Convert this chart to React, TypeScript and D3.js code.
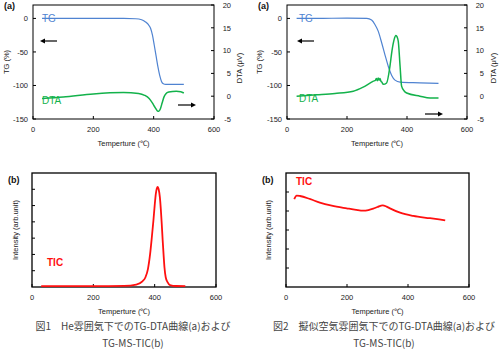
import * as d3 from 'd3';

// ---- data ----
// Fig.1  He atmosphere
const heTgTemp = [30, 100, 200, 300, 340, 360, 372, 382, 390, 396, 402, 408, 414, 420, 426, 432, 440, 460, 500];
const heTg = [0, 0, 0, 0, -0.5, -2, -5, -9, -15, -25, -40, -56, -72, -85, -94, -97.5, -98.5, -98.5, -98.5];
const heDtaTemp = [30, 100, 200, 300, 350, 370, 385, 395, 405, 412, 417, 422, 428, 434, 440, 450, 475, 490, 500];
const heDta = [-0.5, -0.2, 0.5, 0.8, 0.6, 0.2, -0.5, -1.4, -2.5, -3.2, -3.3, -2.8, -1.5, -0.2, 0.5, 0.9, 1.1, 1.0, 0.7];
const heTicTemp = [30, 100, 200, 300, 340, 360, 370, 378, 385, 391, 396, 400, 404, 407, 410, 413, 417, 420, 423, 426, 429, 432, 436, 442, 450, 470, 500];
const heTic = [0.05, 0.05, 0.05, 0.07, 0.15, 0.35, 0.6, 1.1, 2.0, 3.1, 4.1, 5.0, 5.75, 6.05, 6.15, 6.0, 5.5, 4.8, 3.9, 2.9, 2.0, 1.2, 0.6, 0.3, 0.12, 0.06, 0.05];

// Fig.2  simulated air
const airTgTemp = [32, 100, 200, 266, 282, 293, 304, 316, 327, 338, 349, 360, 377, 443, 505];
const airTg = [0, 0, 0.5, 0, -2.5, -9, -19, -37, -55, -72, -85, -92, -95, -96, -97];
const airDtaTemp = [32, 100, 160, 221, 254, 288, 295, 298, 301, 304, 307, 310, 313, 316, 321, 332, 343, 350, 357, 363, 367, 371, 377, 382, 390, 399, 443, 477, 505];
const airDta = [0, 0.3, 0.6, 1.1, 2.0, 3.3, 3.5, 3.9, 3.4, 4.0, 3.5, 3.9, 3.3, 3.1, 2.6, 2.9, 6.5, 10, 12.4, 13.3, 13.0, 12.0, 6.5, 2.2, 1.2, 0.7, 0, -0.4, -0.4];
const airTicTemp = [27, 35, 46, 80, 111, 150, 199, 230, 253, 270, 286, 300, 317, 330, 341, 374, 417, 472, 522];
const airTic = [4.62, 4.81, 4.79, 4.62, 4.44, 4.28, 4.14, 4.06, 4.02, 4.05, 4.12, 4.21, 4.30, 4.23, 4.14, 3.91, 3.74, 3.62, 3.51];

const xTicks = [0, 200, 400, 600];
const tgTicks = [-150, -100, -50, 0];
const dtaTicks = [-5, 0, 5, 10, 15, 20];

const captions = [
  ['図1\u3000He雰囲気下でのTG-DTA曲線(a)および', 'TG-MS-TIC(b)'],
  ['図2\u3000擬似空気雰囲気下でのTG-DTA曲線(a)および', 'TG-MS-TIC(b)'],
];

const FONT = 'Liberation Sans, Arial, sans-serif';
const BLUE = '#4f83d1';
const GREEN = '#13b24b';
const RED = '#ff1010';

type Box = { x0: number; x1: number; y0: number; y1: number };

const zip = (a: number[], b: number[]) => a.map((t, i) => [t, b[i]] as [number, number]);

function XAxis({ box, x }: { box: Box; x: d3.ScaleLinear<number, number> }) {
  return (
    <g fontFamily={FONT} fontSize={7.5}>
      {xTicks.map(t => (
        <g key={t}>
          <line x1={x(t)} x2={x(t)} y1={box.y1} y2={box.y1 - 3} stroke="#000" />
          <text x={x(t)} y={box.y1 + 13} textAnchor="middle" fill="#222">{t}</text>
        </g>
      ))}
      <text x={(box.x0 + box.x1) / 2} y={box.y1 + 27} textAnchor="middle" fill="#222">Temperture (℃)</text>
    </g>
  );
}

function TgPanel({ box, tg, dta, marks, tgX }: {
  box: Box; tg: [number, number][]; dta: [number, number][];
  marks: { leftArrowX: number; rightArrowX: number; rightArrowY: number; dtaLabelY: number; ylabX: number; y2labX: number };
  tgX: number;
}) {
  const x = d3.scaleLinear().domain([0, 600]).range([box.x0, box.x1]);
  const yTg = d3.scaleLinear().domain([-150, 20]).range([box.y1, box.y0]);
  const yDta = d3.scaleLinear().domain([-5, 20]).range([box.y1, box.y0]);
  const tgLine = d3.line<[number, number]>().x(d => x(d[0])).y(d => yTg(d[1])).curve(d3.curveMonotoneX);
  const dtaLine = d3.line<[number, number]>().x(d => x(d[0])).y(d => yDta(d[1])).curve(d3.curveMonotoneX);
  const midY = (box.y0 + box.y1) / 2;
  return (
    <g>
      <rect x={box.x0} y={box.y0} width={box.x1 - box.x0} height={box.y1 - box.y0} fill="none" stroke="#000" strokeWidth={1} />
      <g fontFamily={FONT} fontSize={7.5} fill="#222">
        {tgTicks.map(t => (
          <g key={t}>
            <line x1={box.x0} x2={box.x0 + 3} y1={yTg(t)} y2={yTg(t)} stroke="#000" />
            <text x={box.x0 - 5} y={yTg(t) + 2.7} textAnchor="end">{t}</text>
          </g>
        ))}
        {dtaTicks.map(t => (
          <g key={t}>
            <line x1={box.x1} x2={box.x1 - 3} y1={yDta(t)} y2={yDta(t)} stroke="#000" />
            <text x={box.x1 + 17} y={yDta(t) + 2.7} textAnchor="end">{t}</text>
          </g>
        ))}
        <text transform={`translate(${marks.ylabX},${midY}) rotate(-90)`} textAnchor="middle">TG (%)</text>
        <text transform={`translate(${marks.y2labX},${midY + 6}) rotate(-90)`} textAnchor="middle">DTA (μV)</text>
      </g>
      <XAxis box={box} x={x} />
      <path d={tgLine(tg) || ''} fill="none" stroke={BLUE} strokeWidth={1.2} />
      <path d={dtaLine(dta) || ''} fill="none" stroke={GREEN} strokeWidth={1.5} />
      <text x={tgX} y={yTg(0) + 3.5} fontFamily={FONT} fontSize={10} fill={BLUE}>TG</text>
      <text x={tgX} y={marks.dtaLabelY} fontFamily={FONT} fontSize={10} fill={GREEN}>DTA</text>
      {/* arrows: TG -> left axis, DTA -> right axis */}
      <line x1={marks.leftArrowX + 17} x2={marks.leftArrowX + 4} y1={box.y0 + 36} y2={box.y0 + 36} stroke="#000" strokeWidth={1.2} />
      <path d={`M${marks.leftArrowX},${box.y0 + 36} l5,-2.5 v5 z`} fill="#000" />
      <line x1={marks.rightArrowX} x2={marks.rightArrowX + 13} y1={marks.rightArrowY} y2={marks.rightArrowY} stroke="#000" strokeWidth={1.2} />
      <path d={`M${marks.rightArrowX + 18},${marks.rightArrowY} l-5,-2.5 v5 z`} fill="#000" />
    </g>
  );
}

function TicPanel({ box, tic, nTicks, ylabX, ticLabel }: {
  box: Box; tic: [number, number][]; nTicks: number; ylabX: number; ticLabel: { x: number; y: number };
}) {
  const x = d3.scaleLinear().domain([0, 600]).range([box.x0, box.x1]);
  const y = d3.scaleLinear().domain([0, nTicks]).range([box.y1, box.y0]);
  const line = d3.line<[number, number]>().x(d => x(d[0])).y(d => y(d[1])).curve(d3.curveMonotoneX);
  return (
    <g>
      <rect x={box.x0} y={box.y0} width={box.x1 - box.x0} height={box.y1 - box.y0} fill="none" stroke="#000" strokeWidth={1.3} />
      {d3.range(1, nTicks).map(t => (
        <line key={t} x1={box.x0} x2={box.x0 + 3} y1={y(t)} y2={y(t)} stroke="#000" />
      ))}
      <XAxis box={box} x={x} />
      <text transform={`translate(${ylabX},${(box.y0 + box.y1) / 2}) rotate(-90)`} textAnchor="middle" fontFamily={FONT} fontSize={7.5} fill="#222">Intensity (arb.unit)</text>
      <path d={line(tic) || ''} fill="none" stroke={RED} strokeWidth={1.8} />
      <text x={ticLabel.x} y={ticLabel.y} fontFamily={FONT} fontSize={10} fontWeight="bold" fill={RED}>TIC</text>
    </g>
  );
}

export default function App() {
  const p1a = { x0: 33, x1: 214, y0: 5, y1: 119 };
  const p2a = { x0: 287, x1: 467, y0: 5, y1: 119 };
  const p1b = { x0: 32, x1: 216, y0: 173, y1: 287 };
  const p2b = { x0: 286, x1: 469, y0: 173, y1: 287 };
  return (
    <svg width={500} height={360} viewBox="0 0 500 360" style={{ position: 'absolute', left: 0, top: 0, background: '#fff' }}>
      <rect width={500} height={360} fill="#fff" />
      <TgPanel box={p1a} tg={zip(heTgTemp, heTg)} dta={zip(heDtaTemp, heDta)}
        marks={{ leftArrowX: 40, rightArrowX: 178, rightArrowY: 105, dtaLabelY: 104, ylabX: 9, y2labX: 242 }}
        tgX={42} />
      <TgPanel box={p2a} tg={zip(airTgTemp, airTg)} dta={zip(airDtaTemp, airDta)}
        marks={{ leftArrowX: 297, rightArrowX: 425, rightArrowY: 114, dtaLabelY: 102, ylabX: 262, y2labX: 496 }}
        tgX={299} />
      <TicPanel box={p1b} tic={zip(heTicTemp, heTic)} nTicks={7} ylabX={18} ticLabel={{ x: 47, y: 266 }} />
      <TicPanel box={p2b} tic={zip(airTicTemp, airTic)} nTicks={6} ylabX={271} ticLabel={{ x: 296, y: 185 }} />
      <g fontFamily={FONT} fontSize={9} fontWeight="bold" fill="#111">
        <text x={4} y={9}>(a)</text>
        <text x={258} y={9}>(a)</text>
        <text x={8} y={183}>(b)</text>
        <text x={262} y={183}>(b)</text>
      </g>
      <g fontFamily="Noto Sans CJK JP, sans-serif" fontSize={10} fill="#444" textAnchor="middle">
        <text x={133} y={330}>{captions[0][0]}</text>
        <text x={133} y={347}>{captions[0][1]}</text>
        <text x={384} y={330}>{captions[1][0]}</text>
        <text x={384} y={347}>{captions[1][1]}</text>
      </g>
    </svg>
  );
}
